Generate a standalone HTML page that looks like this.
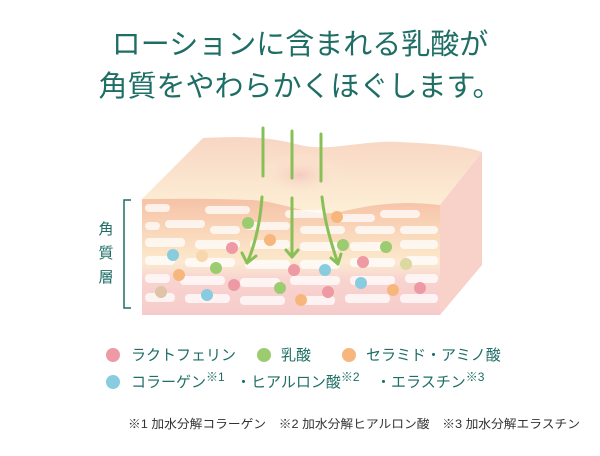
<!DOCTYPE html>
<html><head><meta charset="utf-8"><style>
body{margin:0;background:#fff;width:600px;height:451px;overflow:hidden;font-family:"Liberation Sans","Noto Sans CJK JP",sans-serif}
</style></head><body>
<svg width="600" height="451" viewBox="0 0 600 451" xmlns="http://www.w3.org/2000/svg">
<defs>
<linearGradient id="front" x1="0" y1="0" x2="0" y2="1">
<stop offset="0" stop-color="#f6c2a6"/><stop offset="0.45" stop-color="#fbe3c6"/><stop offset="0.55" stop-color="#fbe9d0"/><stop offset="0.7" stop-color="#f8d3cf"/><stop offset="1" stop-color="#f6cccb"/></linearGradient>
<linearGradient id="top" x1="0" y1="0" x2="0" y2="1"><stop offset="0" stop-color="#f8d6c4"/><stop offset="1" stop-color="#fdf0d6"/></linearGradient>
<radialGradient id="dip" cx="0.5" cy="0.5" r="0.5"><stop offset="0" stop-color="#f5cbc0"/><stop offset="1" stop-color="#fdf0d6" stop-opacity="0"/></radialGradient>
</defs>
<g fill="#1e6e65" font-size="29" text-anchor="middle">
<text x="300" y="54">ローションに含まれる乳酸が</text>
<text x="300" y="96">角質をやわらかくほぐします。</text>
</g>
<path d="M142,199 L203,138 C260,135 280,140 300,145 C330,152 360,140 400,142 C440,144 465,146 482,152 L440,205 C400,200 370,205 340,212 C310,218 280,200 250,200 C200,198 170,199 142,199 Z" fill="url(#top)"/>
<ellipse cx="300" cy="175" rx="45" ry="22" fill="url(#dip)"/>
<path d="M482,152 L482,265 L440,315 L440,205 Z" fill="#f8d2c8"/>
<path d="M142,199 C170,199 200,198 250,200 C280,200 310,218 340,212 C370,205 400,200 440,205 L440,315 L142,315 Z" fill="url(#front)"/>
<g fill="#fff" opacity="0.75">
<rect x="145" y="204" width="25" height="8" rx="4"/><rect x="165" y="220" width="40" height="8" rx="4"/><rect x="205" y="206" width="45" height="8" rx="4"/><rect x="245" y="222" width="45" height="8" rx="4"/><rect x="285" y="210" width="40" height="8" rx="4"/><rect x="335" y="214" width="40" height="8" rx="4"/><rect x="380" y="210" width="40" height="8" rx="4"/><rect x="355" y="226" width="40" height="8" rx="4"/>
<rect x="145" y="222" width="15" height="8" rx="4"/><rect x="210" y="226" width="30" height="8" rx="4"/><rect x="300" y="226" width="45" height="8" rx="4"/><rect x="400" y="226" width="38" height="8" rx="4"/>
<rect x="145" y="238" width="40" height="9" rx="4"/><rect x="195" y="240" width="45" height="9" rx="4"/><rect x="250" y="240" width="40" height="9" rx="4"/><rect x="300" y="242" width="40" height="9" rx="4"/><rect x="350" y="242" width="40" height="9" rx="4"/><rect x="400" y="240" width="38" height="9" rx="4"/>
<rect x="145" y="256" width="30" height="9" rx="4"/><rect x="185" y="258" width="50" height="9" rx="4"/><rect x="245" y="260" width="45" height="9" rx="4"/><rect x="300" y="260" width="40" height="9" rx="4"/><rect x="350" y="258" width="45" height="9" rx="4"/><rect x="405" y="256" width="33" height="9" rx="4"/>
<rect x="145" y="274" width="25" height="9" rx="4"/><rect x="180" y="276" width="45" height="9" rx="4"/><rect x="240" y="278" width="40" height="9" rx="4"/><rect x="290" y="276" width="50" height="9" rx="4"/><rect x="350" y="276" width="45" height="9" rx="4"/><rect x="405" y="274" width="33" height="9" rx="4"/>
<rect x="145" y="293" width="30" height="9" rx="4"/><rect x="185" y="294" width="45" height="9" rx="4"/><rect x="240" y="296" width="45" height="9" rx="4"/><rect x="295" y="296" width="40" height="9" rx="4"/><rect x="345" y="294" width="45" height="9" rx="4"/><rect x="400" y="294" width="38" height="9" rx="4"/>
</g>
<g>
<circle cx="248" cy="223" r="6" fill="#9ccc70"/><circle cx="337" cy="217" r="6" fill="#f7b77c"/><circle cx="270" cy="240" r="6" fill="#f7b77c"/><circle cx="232" cy="248" r="6" fill="#ee9aa5"/><circle cx="343" cy="245" r="6" fill="#9ccc70"/><circle cx="386" cy="247" r="6" fill="#9ccc70"/><circle cx="173" cy="255" r="6" fill="#88ccdf"/><circle cx="202" cy="256" r="6" fill="#f9d7ad"/><circle cx="216" cy="268" r="6" fill="#9ccc70"/><circle cx="179" cy="275" r="6" fill="#f7b77c"/><circle cx="294" cy="270" r="6" fill="#ee9aa5"/><circle cx="325" cy="270" r="6" fill="#88ccdf"/><circle cx="363" cy="262" r="6" fill="#ee9aa5"/><circle cx="234" cy="285" r="6" fill="#ee9aa5"/><circle cx="280" cy="288" r="6" fill="#9ccc70"/><circle cx="361" cy="283" r="6" fill="#88ccdf"/><circle cx="393" cy="290" r="6" fill="#f7b77c"/><circle cx="420" cy="288" r="6" fill="#ee9aa5"/><circle cx="207" cy="295" r="6" fill="#88ccdf"/><circle cx="328" cy="292" r="6" fill="#ee9aa5"/><circle cx="301" cy="300" r="6" fill="#f7b77c"/><circle cx="161" cy="292" r="6" fill="#e0c4a8"/><circle cx="406" cy="264" r="6" fill="#dcd8a0"/>
</g>
<g stroke="#88c057" stroke-width="3" fill="none" stroke-linecap="round" stroke-linejoin="round">
<line x1="263" y1="128" x2="263" y2="176"/><line x1="292" y1="131" x2="292" y2="178"/><line x1="321" y1="134" x2="321" y2="181"/>
<path d="M262,197 C260,225 255,245 247,263"/><path d="M242,253 L247,263 L256,256"/>
<path d="M292,198 L292,257"/><path d="M286,250 L292,257 L298,250"/>
<path d="M322,197 C325,225 332,245 338,264"/><path d="M331,258 L338,264 L341,254"/>
</g>
<path d="M131,200 L124,200 L124,308 L131,308" stroke="#1e6e65" stroke-width="1.5" fill="none"/>
<g fill="#1e6e65" font-size="15" text-anchor="middle">
<text x="106" y="234">角</text><text x="106" y="258">質</text><text x="106" y="282">層</text>
</g>
<circle cx="113" cy="355" r="7" fill="#ee9aa5"/><circle cx="264" cy="355" r="7" fill="#9ccc70"/><circle cx="349" cy="355" r="7" fill="#f7b77c"/><circle cx="113" cy="382" r="7" fill="#88ccdf"/>
<g fill="#1e6e65" font-size="15">
<text x="131" y="360">ラクトフェリン</text><text x="281" y="360">乳酸</text><text x="366" y="360">セラミド・アミノ酸</text>
<text x="131" y="387">コラーゲン<tspan font-size="12" dy="-6">※1</tspan></text>
<text x="236" y="387">・ヒアルロン酸<tspan font-size="12" dy="-6">※2</tspan></text>
<text x="376" y="387">・エラスチン<tspan font-size="12" dy="-6">※3</tspan></text>
</g>
<text x="128" y="428" font-size="12" fill="#333" textLength="452" lengthAdjust="spacingAndGlyphs">※1 加水分解コラーゲン　※2 加水分解ヒアルロン酸　※3 加水分解エラスチン</text>
</svg>
</body></html>
